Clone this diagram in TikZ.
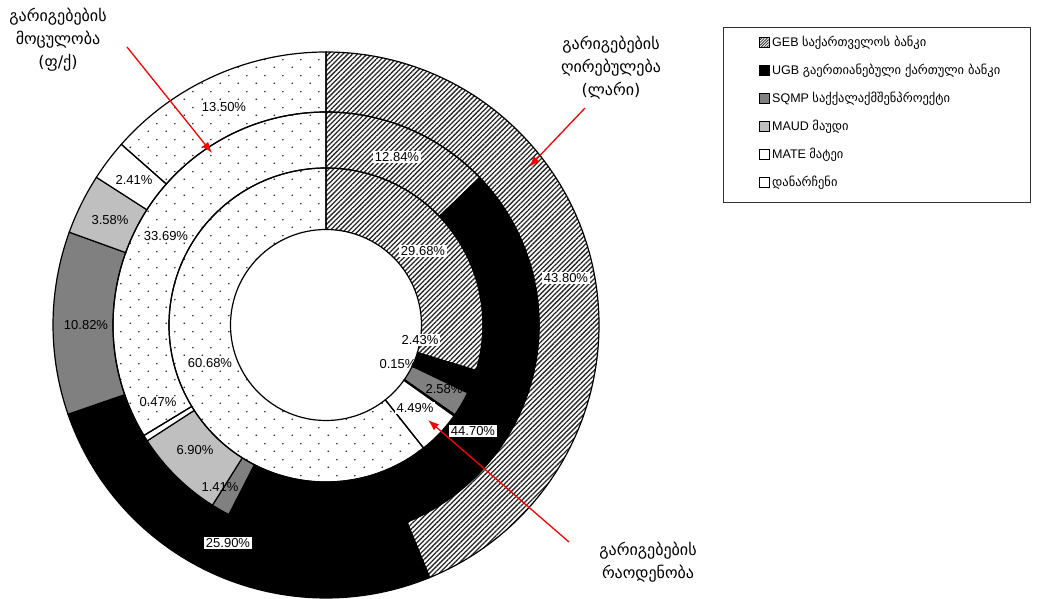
\documentclass[tikz,border=0pt]{standalone}
\usepackage{fontspec}
\setmainfont{Liberation Sans}
\newfontfamily\geo{DejaVu Sans}
\usetikzlibrary{patterns.meta,arrows.meta}
\tikzdeclarepattern{name=dotgrid, type=uncolored,
  bottom left={(0pt,0pt)}, top right={(18pt,16pt)}, tile size={(18pt,16pt)},
  code={\fill (4.5pt,4pt) circle (0.9pt); \fill (13.5pt,12pt) circle (0.9pt);}}
\tikzset{
  seg/.style={draw=black, line width=1.2pt, line join=miter},
  geb/.style={seg, pattern={Lines[angle=45,distance=3.4pt,line width=1.3pt]}, pattern color=black!85},
  ugb/.style={seg, fill=black},
  sqmp/.style={seg, fill=black!50},
  maud/.style={seg, fill=black!25},
  mate/.style={seg, fill=white},
  rest/.style={seg, pattern=dotgrid, pattern color=black!85},
  pct/.style={font=\fontsize{13}{15}\selectfont, inner sep=1.5pt, fill=white},
  pctn/.style={font=\fontsize{13}{15}\selectfont, inner sep=1.5pt},
  glabel/.style={font=\geo\fontsize{16}{23}\selectfont, align=center, inner sep=0pt},
  legtext/.style={font=\fontsize{12.5}{14}\selectfont, anchor=west, inner sep=0pt},
  legsq/.style={draw=black, line width=1pt, minimum size=10pt, inner sep=0pt},
  redarrow/.style={draw=red, line width=1.3pt, -{Latex[length=11pt,width=8pt]}},
}
\newcommand\rseg[5]{%
  \path[#1] (#2:#5) arc[start angle=#2, end angle=#3, radius=#5] -- (#3:#4)
    arc[start angle=#3, end angle=#2, radius=#4] -- cycle;}
\begin{document}
\begin{tikzpicture}[x=1pt,y=1pt]
\useasboundingbox (0,0) rectangle (1037,-599);
\begin{scope}[shift={(326,-325)}]
  % outer ring: value
  \rseg{geb}{90}{-67.68}{213}{273}
  \rseg{ugb}{-67.68}{-160.92}{213}{273}
  \rseg{sqmp}{-160.92}{-199.872}{213}{273}
  \rseg{maud}{-199.872}{-212.76}{213}{273}
  \rseg{mate}{-212.76}{-221.436}{213}{273}
  \rseg{rest}{-221.436}{-270}{213}{273}
  % middle ring: volume
  \rseg{geb}{90}{43.776}{157}{213}
  \rseg{ugb}{43.776}{-117.144}{157}{213}
  \rseg{sqmp}{-117.144}{-122.22}{157}{213}
  \rseg{maud}{-122.22}{-147.06}{157}{213}
  \rseg{mate}{-147.06}{-148.752}{157}{213}
  \rseg{rest}{-148.752}{-270}{157}{213}
  % inner ring: count
  \rseg{geb}{90}{-16.848}{95.5}{157}
  \rseg{ugb}{-16.848}{-25.596}{95.5}{157}
  \rseg{sqmp}{-25.596}{-34.884}{95.5}{157}
  \rseg{maud}{-34.884}{-35.424}{95.5}{157}
  \rseg{mate}{-35.424}{-51.588}{95.5}{157}
  \rseg{rest}{-51.588}{-270}{95.5}{157}
\end{scope}
% percentage labels
\node[pct] (p1350) at (224,-107) {13.50\%};
\node[pct] (p1284) at (397,-157) {12.84\%};
\node[pct] (p4380) at (566,-278) {43.80\%};
\node[pct] (p241) at (134,-180) {2.41\%};
\node[pctn] (p358) at (110,-220) {3.58\%};
\node[pct] (p3369) at (166,-236) {33.69\%};
\node[pctn] (p1082) at (86,-325) {10.82\%};
\node[pctn] (p047) at (158,-402) {0.47\%};
\node[pct] (p6068) at (210,-363) {60.68\%};
\node[pctn] (p690) at (195,-450) {6.90\%};
\node[pctn] (p141) at (220,-487) {1.41\%};
\node[pct] (p2590) at (228,-543) {25.90\%};
\node[pct] (p2968) at (423,-251) {29.68\%};
\node[pct] (p243) at (420,-340) {2.43\%};
\node[pctn] (p015) at (398,-364) {0.15\%};
\node[pctn] (p258) at (444,-389) {2.58\%};
\node[pct] (p449) at (415,-408) {4.49\%};
\node[pct] (p4470) at (473,-431) {44.70\%};
% annotation labels
\node[glabel] (lvol) at (58,-40) {გარიგებების\\მოცულობა\\(ფ/ქ)};
\node[glabel] (lval) at (611,-68) {გარიგებების\\ღირებულება\\(ლარი)};
\node[glabel] (lcnt) at (648,-562) {გარიგებების\\რაოდენობა};
\coordinate (a1s) at (127,-47);
\coordinate (a1e) at (212,-153);
\coordinate (a2s) at (585,-108);
\coordinate (a2e) at (529,-167);
\coordinate (a3s) at (569,-542);
\coordinate (a3e) at (428,-420);
\draw[redarrow] (a1s) -- (a1e);
\draw[redarrow] (a2s) -- (a2e);
\draw[redarrow] (a3s) -- (a3e);
% legend
\node[draw=black!80, line width=1pt, minimum width=307pt, minimum height=175pt, anchor=north west, inner sep=0pt] (leg) at (723,-27) {};
\node[legsq, pattern={Lines[angle=45,distance=2pt,line width=0.8pt]}, pattern color=black!85] (k1) at (764.5,-43) {};
\node[legsq, fill=black] (k2) at (764.5,-71) {};
\node[legsq, fill=black!50] (k3) at (764.5,-99) {};
\node[legsq, fill=black!25] (k4) at (764.5,-127) {};
\node[legsq, fill=white] (k5) at (764.5,-155) {};
\node[legsq, fill=white] (k6) at (764.5,-183) {};
\node[legtext] (t1) at (772,-43) {GEB {\geo საქართველოს ბანკი}};
\node[legtext] (t2) at (772,-71) {UGB {\geo გაერთიანებული ქართული ბანკი}};
\node[legtext] (t3) at (772,-99) {SQMP {\geo საქქალაქმშენპროექტი}};
\node[legtext] (t4) at (772,-127) {MAUD {\geo მაუდი}};
\node[legtext] (t5) at (772,-155) {MATE {\geo მატეი}};
\node[legtext] (t6) at (772,-183) {{\geo დანარჩენი}};
\end{tikzpicture}
\end{document}
